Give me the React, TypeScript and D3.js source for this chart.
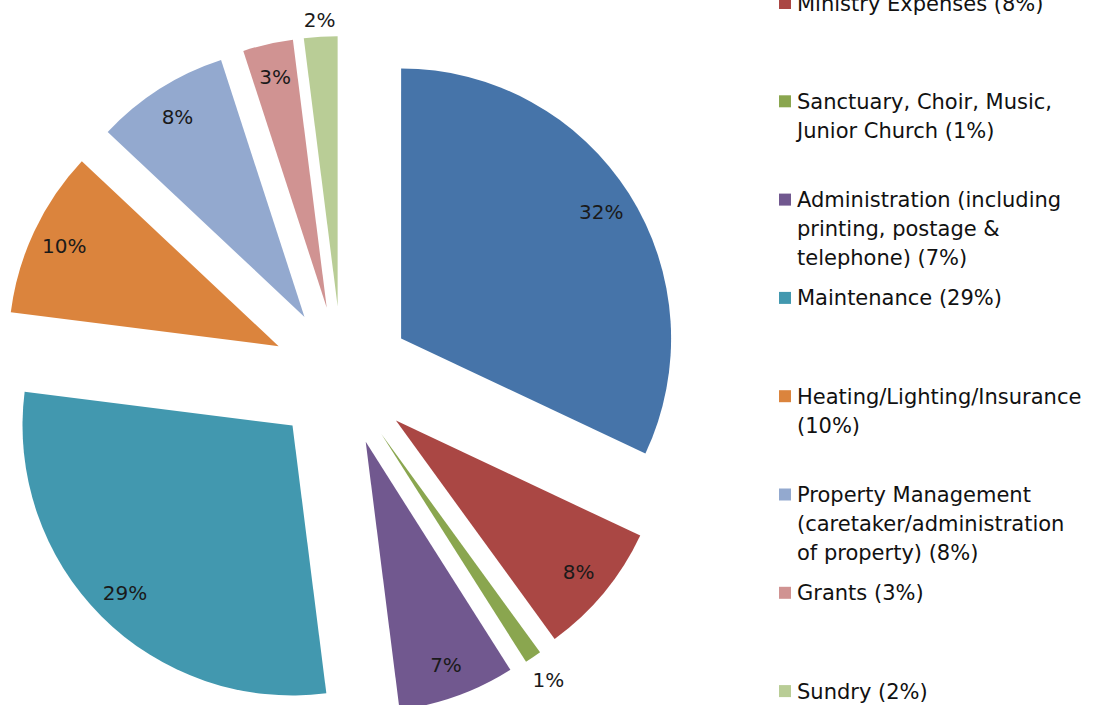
import React from "react";
import * as d3 from "d3";

const categories = [
  "Parish Share",
  "Ministry Expenses",
  "Sanctuary, Choir, Music, Junior Church",
  "Administration (including printing, postage & telephone)",
  "Maintenance",
  "Heating/Lighting/Insurance",
  "Property Management (caretaker/administration of property)",
  "Grants",
  "Sundry",
];
const values = [32, 8, 1, 7, 29, 10, 8, 3, 2];
const legendLines = [
  ["Parish Share (32%)"],
  ["Ministry Expenses (8%)"],
  ["Sanctuary, Choir, Music,", "Junior Church (1%)"],
  ["Administration (including", "printing, postage &", "telephone) (7%)"],
  ["Maintenance (29%)"],
  ["Heating/Lighting/Insurance", "(10%)"],
  ["Property Management", "(caretaker/administration", "of property) (8%)"],
  ["Grants (3%)"],
  ["Sundry (2%)"],
];
const colors = [
  "#4674A9",
  "#AA4744",
  "#8AA64F",
  "#71588F",
  "#4298AF",
  "#DB843D",
  "#93A9CF",
  "#D09392",
  "#B9CD96",
];

const W = 1113;
const H = 705;
const cx = 342;
const cy = 376;
const R = 270;
const explode = 70;
const FONT = "'DejaVu Sans', sans-serif";

export default function App() {
  const pie = d3
    .pie<number>()
    .sort(null)
    .value((d) => d)
    .startAngle(0)
    .endAngle(2 * Math.PI);
  const arcs = pie(values);
  const arcGen = d3.arc<d3.PieArcDatum<number>>().innerRadius(0).outerRadius(R);

  const labelDist = (v: number) => (v === 1 ? 297 : v === 2 ? 287 : 237);

  const legendX = 779;
  const legendY0 = 3 - 98.3;
  const legendStep = 98.3;
  const lineH = 29;

  return (
    <svg
      width={W}
      height={H}
      style={{ position: "absolute", left: 0, top: 0, background: "#fff" }}
      fontFamily={FONT}
    >
      <g transform={`translate(${cx},${cy})`}>
        {arcs.map((a, i) => {
          const mid = (a.startAngle + a.endAngle) / 2;
          const dx = explode * Math.sin(mid);
          const dy = -explode * Math.cos(mid);
          const L = labelDist(a.data);
          const lx = dx + L * Math.sin(mid);
          const ly = dy - L * Math.cos(mid);
          return (
            <g key={categories[i]}>
              <path
                d={arcGen(a) || ""}
                transform={`translate(${dx},${dy})`}
                fill={colors[i]}
              />
              <text
                x={lx}
                y={ly}
                textAnchor="middle"
                dy="0.36em"
                fontSize={20}
                fill="#1a1a1a"
              >
                {`${a.data}%`}
              </text>
            </g>
          );
        })}
      </g>
      <g>
        {legendLines.map((lines, i) => {
          const y = legendY0 + i * legendStep;
          return (
            <g key={categories[i]}>
              <rect x={legendX} y={y - 6} width={12} height={12} fill={colors[i]} />
              <text x={797} y={y} fontSize={21} fill="#111" dy="0.36em">
                {lines.map((ln, j) => (
                  <tspan key={j} x={797} y={y + j * lineH} dy="0.36em">
                    {ln}
                  </tspan>
                ))}
              </text>
            </g>
          );
        })}
      </g>
    </svg>
  );
}
